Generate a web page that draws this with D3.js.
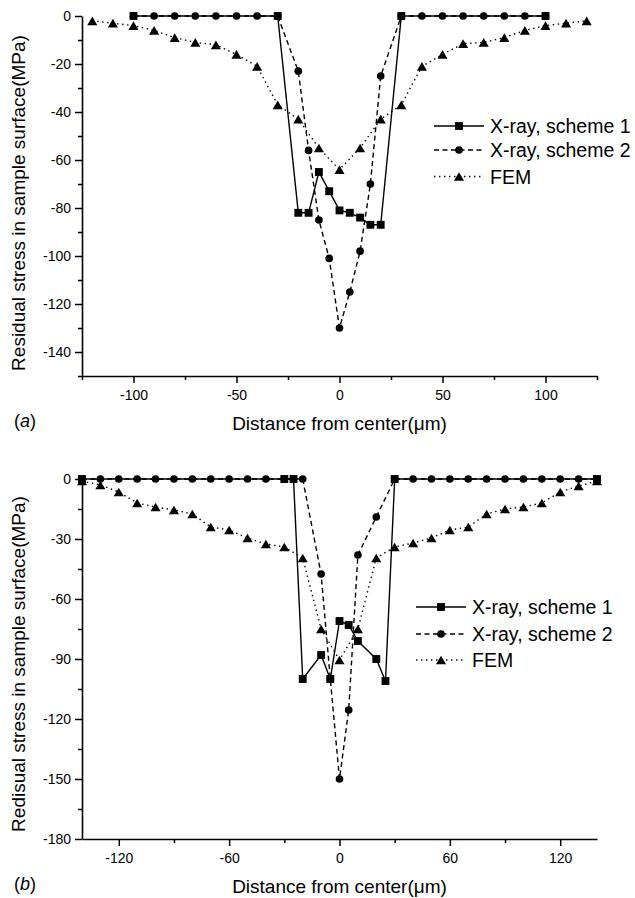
<!DOCTYPE html>
<html><head><meta charset="utf-8">
<script src="https://cdn.jsdelivr.net/npm/d3@7"></script>
<style>body{margin:0;background:#fff} text{font-family:"Liberation Sans",Arial,sans-serif;fill:#000}</style>
</head><body><svg id="c" width="635" height="898"></svg>
<script>
// ---------- data: panel (a) ----------
const aX1 = [-100,-30,-20,-15,-10,-5,0,5,10,15,20,30,100];
const aY1 = [0,0,-82,-82,-65,-73,-81,-82,-84,-87,-87,0,0];
const aX2 = [-100,-90,-80,-70,-60,-50,-40,-30,-20,-15,-10,-5,0,5,10,15,20,30,40,50,60,70,80,90,100];
const aY2 = [0,0,0,0,0,0,0,0,-23,-56,-85,-101,-130,-115,-98,-70,-25,0,0,0,0,0,0,0,0];
const aXF = [-120,-110,-100,-90,-80,-70,-60,-50,-40,-30,-20,-10,0,10,20,30,40,50,60,70,80,90,100,110,120];
const aYF = [-2,-3,-4,-6,-9,-11,-12,-16,-21,-37,-43,-55,-64,-55,-43,-37,-21,-16,-11.5,-11,-9,-6,-4,-3,-2];
const aXTicks = [-100,-50,0,50,100];
const aXMinor = [-125,-75,-25,25,75,125];
const aYTicks = [0,-20,-40,-60,-80,-100,-120,-140];
const aYMinor = [-10,-30,-50,-70,-90,-110,-130,-150];

// ---------- data: panel (b) ----------
const bX1 = [-140,-30,-25,-20,-10,-5,0,5,10,20,25,30,140];
const bY1 = [0,0,0,-100,-88,-100,-71,-73,-81,-90,-101,0,0];
const bX2 = [-140,-130,-120,-110,-100,-90,-80,-70,-60,-50,-40,-30,-20,-10,-5,0,5,10,20,30,40,50,60,70,80,90,100,110,120,130,140];
const bY2 = [0,0,0,0,0,0,0,0,0,0,0,0,0,-47.5,-100,-150,-115.5,-38,-19,0,0,0,0,0,0,0,0,0,0,0,0];
const bXF = [-140,-130,-120,-110,-100,-90,-80,-70,-60,-50,-40,-30,-20,-10,0,10,20,30,40,50,60,70,80,90,100,110,120,130,140];
const bYF = [-1,-3,-6.5,-12,-14,-15.5,-17.5,-24,-25.5,-29.5,-32.5,-34,-39.5,-75,-90.5,-75,-39.5,-34,-32,-29.5,-25.5,-24,-17.5,-15,-14,-12,-6.5,-3.5,-1];
const bXTicks = [-120,-60,0,60,120];
const bXMinor = [-90,-30,30,90];
const bYTicks = [0,-30,-60,-90,-120,-150,-180];
const bYMinor = [-15,-45,-75,-105,-135,-165];

const seriesNames = ["X-ray, scheme 1","X-ray, scheme 2","FEM"];
const xTitle = "Distance from center(\u03bcm)";

const svg = d3.select("#c");

// triangle centred on its bounding box
const triBox = {draw(ctx, size){
  const s = Math.sqrt(size*4/Math.sqrt(3)); const h = s*Math.sqrt(3)/2;
  ctx.moveTo(0,-h/2); ctx.lineTo(s/2,h/2); ctx.lineTo(-s/2,h/2); ctx.closePath();
}};
const styles = [
  {dash:null, sym:d3.symbolSquare, size:62},
  {dash:"5,3.5", sym:d3.symbolCircle, size:46},
  {dash:"1.4,3.6", sym:triBox, size:44}
];

function panel(cfg){
  const g = svg.append("g");
  const x = d3.scaleLinear().domain(cfg.xDom).range([82,597]);
  const y = d3.scaleLinear().domain(cfg.yDom).range([cfg.y1, cfg.y0]);
  // axes
  const yAx = g.append("g").attr("transform","translate(82,0)")
    .call(d3.axisLeft(y).tickValues(cfg.yT).tickSize(7).tickSizeOuter(0).tickPadding(4).tickFormat(d3.format("d")));
  g.append("g").attr("transform","translate(82,0)")
    .call(d3.axisLeft(y).tickValues(cfg.yM).tickSize(4).tickFormat("")).select(".domain").remove();
  const xAx = g.append("g").attr("transform",`translate(0,${cfg.y1})`)
    .call(d3.axisBottom(x).tickValues(cfg.xT).tickSize(7).tickSizeOuter(0).tickPadding(7).tickFormat(d3.format("d")));
  g.append("g").attr("transform",`translate(0,${cfg.y1})`)
    .call(d3.axisBottom(x).tickValues(cfg.xM).tickSize(4).tickFormat("")).select(".domain").remove();
  g.selectAll(".domain").attr("stroke-width",1.6).attr("stroke","#000");
  g.selectAll(".tick line").attr("stroke-width",1.5).attr("stroke","#000");
  g.selectAll(".tick text").attr("font-size",14).attr("font-family","Liberation Sans, Arial, sans-serif").attr("fill","#000");
  xAx.selectAll(".tick text").text(d=>d<0?"-"+Math.abs(d):d);
  yAx.selectAll(".tick text").text(d=>d<0?"-"+Math.abs(d):d);

  // series
  const sets = [[cfg.x1,cfg.y1d],[cfg.x2,cfg.y2d],[cfg.xF,cfg.yF]];
  const order = [2,0,1];
  order.forEach(i=>{
    const pts = sets[i][0].map((v,k)=>[v,sets[i][1][k]]);
    const st = styles[i];
    g.append("path").attr("d", d3.line().x(d=>x(d[0])).y(d=>y(d[1]))(pts))
      .attr("fill","none").attr("stroke","#000").attr("stroke-width",1.4)
      .attr("stroke-dasharray", st.dash);
  });
  order.forEach(i=>{
    const pts = sets[i][0].map((v,k)=>[v,sets[i][1][k]]);
    const st = styles[i];
    g.selectAll(null).data(pts).enter().append("path")
      .attr("d", d3.symbol().type(st.sym).size(st.size))
      .attr("transform", d=>`translate(${x(d[0])},${y(d[1])})`)
      .attr("fill","#000");
  });

  // legend
  seriesNames.forEach((n,i)=>{
    const ly = cfg.legY[i], lx = cfg.legX;
    const st = styles[i];
    g.append("line").attr("x1",lx).attr("x2",lx+50).attr("y1",ly).attr("y2",ly)
      .attr("stroke","#000").attr("stroke-width",1.4).attr("stroke-dasharray",st.dash);
    g.append("path").attr("d", d3.symbol().type(st.sym).size(st.size))
      .attr("transform",`translate(${lx+25},${ly})`).attr("fill","#000");
    g.append("text").attr("x",lx+56).attr("y",ly+7).attr("font-size",19.5).text(n);
  });

  // titles
  g.append("text").attr("transform",`translate(25,${cfg.yTitleC}) rotate(-90)`)
    .attr("text-anchor","middle").attr("font-size",19).text(cfg.yTitle);
  g.append("text").attr("x",x(0)).attr("y",cfg.y1+54).attr("text-anchor","middle")
    .attr("font-size",19).text(xTitle);
  const lab = g.append("text").attr("x",14).attr("y",cfg.y1+51).attr("font-size",18);
  lab.append("tspan").text("(");
  lab.append("tspan").attr("font-style","italic").text(cfg.label);
  lab.append("tspan").text(")");
}

panel({xDom:[-125,125], yDom:[-150,0], y0:16, y1:376,
  xT:aXTicks, xM:aXMinor, yT:aYTicks, yM:aYMinor,
  x1:aX1, y1d:aY1, x2:aX2, y2d:aY2, xF:aXF, yF:aYF,
  legX:434, legY:[126,150,176.5], yTitleC:203,
  yTitle:"Residual stress in sample surface(MPa)", label:"a"});
panel({xDom:[-140,140], yDom:[-180,0], y0:479, y1:839,
  xT:bXTicks, xM:bXMinor, yT:bYTicks, yM:bYMinor,
  x1:bX1, y1d:bY1, x2:bX2, y2d:bY2, xF:bXF, yF:bYF,
  legX:416, legY:[607,634,660], yTitleC:664,
  yTitle:"Redisual stress in sample surface(MPa)", label:"b"});
</script></body></html>
